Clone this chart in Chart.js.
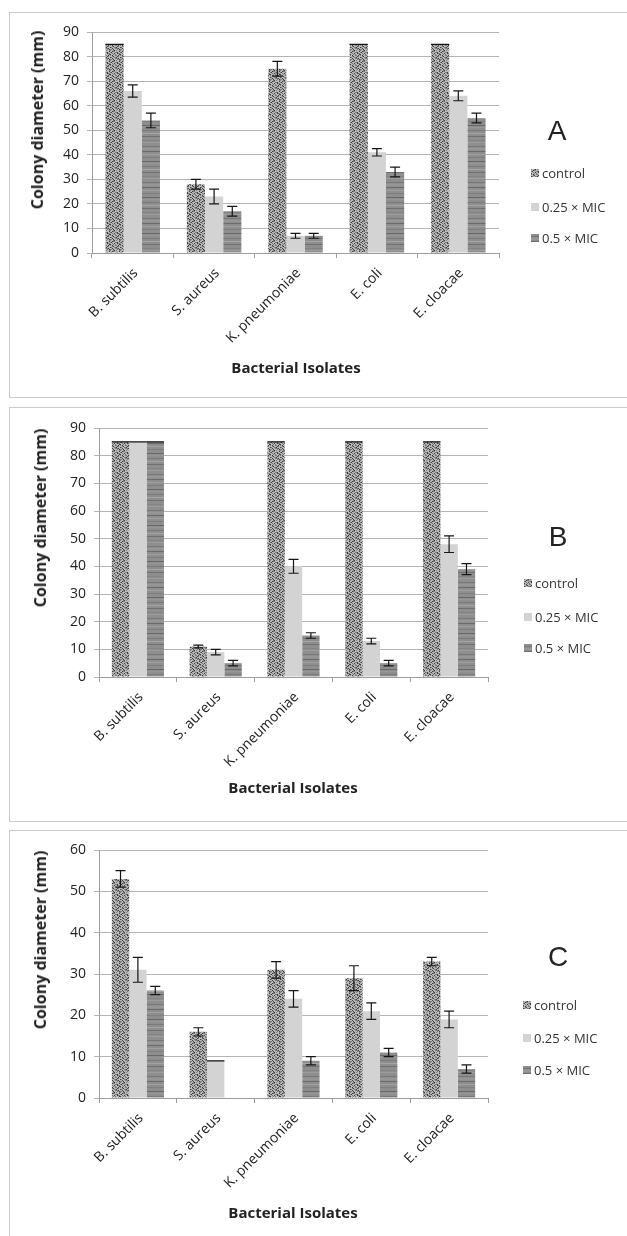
<!DOCTYPE html>
<html lang="en">
<head>
<meta charset="UTF-8">
<title>Colony diameter</title>
<script src="https://cdn.jsdelivr.net/npm/chart.js@4"></script>
<style>
  body { margin:0; width:627px; height:1236px; background:#fff; position:relative; overflow:hidden;
         font-family:"Open Sans", sans-serif; color:#222; }
  .frame { position:absolute; left:9px; width:640px; border:1.5px solid #cacaca; box-sizing:border-box; }
  canvas.plot { position:absolute; left:0; }
  .ytitle { position:absolute; font-weight:bold; font-size:16px; white-space:nowrap;
            transform:translate(-50%,-50%) rotate(-90deg); }
  .xtitle { position:absolute; font-weight:bold; font-size:15px; white-space:nowrap;
            transform:translate(-50%,-50%); }
  .letter { position:absolute; font-family:"Liberation Sans", sans-serif; font-size:28px;
            transform:translate(-50%,-50%); }
  .leg { position:absolute; font-size:13px; line-height:16px; white-space:nowrap; color:#333;
         transform:translateY(-50%); }
  .leg i { display:inline-block; width:8px; height:8px; margin-right:3px; vertical-align:1px; }
</style>
</head>
<body>

<script>
// categories and series
const isolates = ["B. subtilis", "S. aureus", "K. pneumoniae", "E. coli", "E. cloacae"];
const seriesNames = ["control", "0.25 × MIC", "0.5 × MIC"];

// panel A
const controlA = [85, 28, 75, 85, 85];
const errControlA = [0, 2, 3, 0, 0];
const quarterA = [66, 23, 7, 41, 64];
const errQuarterA = [2.5, 3, 1, 1.5, 2];
const halfA = [54, 17, 7, 33, 55];
const errHalfA = [3, 2, 1, 2, 2];
const ticksA = [0, 10, 20, 30, 40, 50, 60, 70, 80, 90];

// panel B
const controlB = [85, 11, 85, 85, 85];
const errControlB = [0, 0.5, 0, 0, 0];
const quarterB = [85, 9, 40, 13, 48];
const errQuarterB = [0, 1, 2.5, 1, 3];
const halfB = [85, 5, 15, 5, 39];
const errHalfB = [0, 1, 1, 1, 2];
const ticksB = [0, 10, 20, 30, 40, 50, 60, 70, 80, 90];

// panel C
const controlC = [53, 16, 31, 29, 33];
const errControlC = [2, 1, 2, 3, 1];
const quarterC = [31, 9, 24, 21, 19];
const errQuarterC = [3, 0, 2, 2, 2];
const halfC = [26, 0, 9, 11, 7];
const errHalfC = [1, 0, 1, 1, 1];
const ticksC = [0, 10, 20, 30, 40, 50, 60];

// fill textures (fixed pixel maps)
const controlRows = [
  "mllmdlmllm",
  "lldmmlllld",
  "mdlllmmdll",
  "llmldlldmm",
  "dllmlmllld",
  "mldllmmldl",
  "llmdllldml",
  "dmllmmdlll",
  "lldllmmmdl",
  "mmldlllmld"
];
const stripeGrays = [142,142,120,142,150,150,142,108,142,142,160,142,142,126,142,142,142,104,
                     142,150,142,142,122,142,142,164,142,142,112,142,142,142,132,142,156,142];

function tileFromRows(rows, pal) {
  const c = document.createElement("canvas");
  c.width = rows[0].length; c.height = rows.length;
  const g = c.getContext("2d");
  rows.forEach((r, y) => { for (let x = 0; x < r.length; x++) { g.fillStyle = pal[r[x]]; g.fillRect(x, y, 1, 1); } });
  return c;
}
function stripeTile(grays) {
  const c = document.createElement("canvas");
  c.width = 4; c.height = grays.length;
  const g = c.getContext("2d");
  grays.forEach((v, y) => { g.fillStyle = `rgb(${v},${v},${v})`; g.fillRect(0, y, 4, 1); });
  return c;
}
function solidTile(col) {
  const c = document.createElement("canvas");
  c.width = 4; c.height = 4;
  const g = c.getContext("2d");
  g.fillStyle = col; g.fillRect(0, 0, 4, 4);
  return c;
}
const tiles = [
  tileFromRows(controlRows, { d: "#3e3e3e", m: "#7c7c7c", l: "#b9b9b9" }),
  solidTile("#d3d3d3"),
  stripeTile(stripeGrays)
];

// error bars drawn from the y scale
const errorBars = {
  id: "errorBars",
  afterDatasetsDraw(chart) {
    const ctx = chart.ctx, y = chart.scales.y;
    ctx.save();
    ctx.strokeStyle = "#151515";
    ctx.lineWidth = 1.2;
    chart.data.datasets.forEach((ds, i) => {
      chart.getDatasetMeta(i).data.forEach((bar, j) => {
        const v = ds.data[j], e = ds.errors[j];
        if (!v) return;
        const yt = y.getPixelForValue(v + e), yb = y.getPixelForValue(v - e);
        const half = e === 0 ? bar.width / 2 : 5;
        ctx.beginPath();
        ctx.moveTo(bar.x, yt); ctx.lineTo(bar.x, yb);
        ctx.moveTo(bar.x - half, yt); ctx.lineTo(bar.x + half, yt);
        ctx.moveTo(bar.x - half, yb); ctx.lineTo(bar.x + half, yb);
        ctx.stroke();
      });
    });
    ctx.restore();
  }
};

const panels = [
  { letter: "A", top: 0, h: 400, frameTop: 12, frameH: 386, plotTop: 32, plotBottom: 253, left: 92, right: 499,
    series: [controlA, quarterA, halfA], errs: [errControlA, errQuarterA, errHalfA], ticks: ticksA,
    yTitle: [37, 120], xTitle: [296, 367], let: [557, 131], legX: 531, legY: [173, 207, 238] },
  { letter: "B", top: 400, h: 422, frameTop: 407, frameH: 415, plotTop: 28, plotBottom: 277, left: 99, right: 488,
    series: [controlB, quarterB, halfB], errs: [errControlB, errQuarterB, errHalfB], ticks: ticksB,
    yTitle: [40, 518], xTitle: [293, 787], let: [558, 537], legX: 524, legY: [583, 617, 648] },
  { letter: "C", top: 822, h: 414, frameTop: 830, frameH: 430, plotTop: 28, plotBottom: 276, left: 99, right: 488,
    series: [controlC, quarterC, halfC], errs: [errControlC, errQuarterC, errHalfC], ticks: ticksC,
    yTitle: [40, 940], xTitle: [293, 1212], let: [558, 957], legX: 523, legY: [1005, 1038, 1070] }
];

function addDiv(cls, text, x, y) {
  const d = document.createElement("div");
  d.className = cls;
  d.textContent = text;
  d.style.left = x + "px";
  d.style.top = y + "px";
  document.body.appendChild(d);
  return d;
}

const X_AXIS_H = 100;
panels.forEach(p => {
  const fr = document.createElement("div");
  fr.className = "frame";
  fr.style.top = p.frameTop + "px";
  fr.style.height = p.frameH + "px";
  document.body.appendChild(fr);

  const cv = document.createElement("canvas");
  cv.className = "plot";
  cv.width = 627; cv.height = p.h;
  cv.style.top = p.top + "px";
  document.body.appendChild(cv);

  addDiv("ytitle", "Colony diameter (mm)", p.yTitle[0], p.yTitle[1]);
  addDiv("xtitle", "Bacterial Isolates", p.xTitle[0], p.xTitle[1]);
  addDiv("letter", p.letter, p.let[0], p.let[1]);
  seriesNames.forEach((n, i) => {
    const d = addDiv("leg", n, p.legX, p.legY[i]);
    const sw = document.createElement("i");
    sw.style.backgroundImage = `url(${tiles[i].toDataURL()})`;
    d.prepend(sw);
  });

  const ctx = cv.getContext("2d");
  new Chart(ctx, {
    type: "bar",
    data: {
      labels: isolates,
      datasets: p.series.map((s, i) => ({
        label: seriesNames[i],
        data: s,
        errors: p.errs[i],
        backgroundColor: ctx.createPattern(tiles[i], "repeat"),
        borderWidth: 0,
        categoryPercentage: 0.67,
        barPercentage: 1
      }))
    },
    options: {
      responsive: false,
      animation: false,
      layout: { padding: { top: p.plotTop, left: 0, right: 627 - p.right, bottom: p.h - p.plotBottom - X_AXIS_H } },
      plugins: { legend: { display: false }, tooltip: { enabled: false } },
      scales: {
        x: {
          grid: { drawOnChartArea: false, drawTicks: true, tickLength: 5, color: "#9c9c9c" },
          border: { color: "#9c9c9c" },
          ticks: { minRotation: 45, maxRotation: 45, padding: 7, labelOffset: 3, color: "#222",
                   font: { family: "Open Sans", size: 14 } },
          afterFit(s) { s.height = X_AXIS_H; }
        },
        y: {
          min: p.ticks[0], max: p.ticks[p.ticks.length - 1],
          afterBuildTicks(s) { s.ticks = p.ticks.map(v => ({ value: v })); },
          grid: { color: "#b4b4b4", tickLength: 5 },
          border: { color: "#9c9c9c" },
          ticks: { padding: 8, color: "#222", font: { family: "Open Sans", size: 14 } },
          afterFit(s) { s.width = p.left; }
        }
      }
    },
    plugins: [errorBars]
  });
});
</script>
</body>
</html>
